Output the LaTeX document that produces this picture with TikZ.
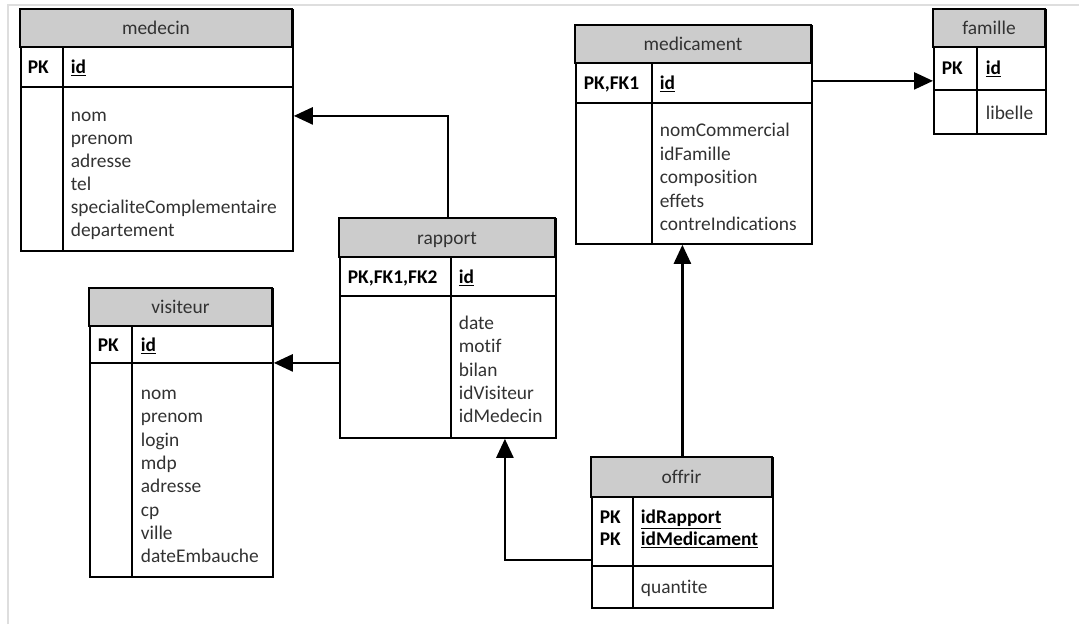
\documentclass[tikz,border=0pt]{standalone}
\usepackage{fontspec}
\setmainfont{Carlito}[Ligatures=NoCommon]
\usepackage{tikz}
\usetikzlibrary{arrows.meta}

\definecolor{hdrgray}{RGB}{204,204,204}
\definecolor{txtgray}{RGB}{50,50,50}
\definecolor{framegray}{RGB}{222,222,222}

\begin{document}
\begin{tikzpicture}[x=1pt, y=-1pt, line width=1.8pt, font=\fontsize{19.4}{23}\selectfont,
  tablebox/.style={draw, anchor=north west, inner sep=0pt},
  title/.style={fill=hdrgray},
  tname/.style={text=txtgray, inner sep=0pt, text height=0.7em, text depth=0.2em, yshift=-4pt},
  keytxt/.style={anchor=west, inner sep=0pt, font=\fontsize{19.4}{23}\selectfont\bfseries, text height=0.7em, text depth=0.2em, yshift=-4pt},
  attr/.style={anchor=west, inner sep=0pt, text=txtgray, text height=0.7em, text depth=0.2em, yshift=-4pt},
  fk/.style={-{Triangle[length=19pt,width=17pt]}, line width=2.5pt}]
\useasboundingbox (0,0) rectangle (1079,624);
\draw[framegray, line width=2pt] (8,624) -- (8,5) -- (1079,5);

% medecin
\node[tablebox, minimum width=272pt, minimum height=241pt] (medecin) at (20,9) {};
\draw[title] (medecin.north west) rectangle node[tname] (medecin-t) {medecin} ++(272,38);
\draw (medecin.north west) ++(0,78) -- ++(272,0);
\draw (medecin.north west) ++(43,38) -- ++(0,203);
\node[keytxt] (medecin-pk) at (27,67) {PK};
\node[keytxt] (medecin-id) at (70,67) {\underline{id}};
\foreach \f [count=\i from 0] in {nom,prenom,adresse,tel,specialiteComplementaire,departement}
  \node[attr] (medecin-\i) at (70,{115+23*\i}) {\f};

% medicament
\node[tablebox, minimum width=236pt, minimum height=218pt] (medicament) at (575,25) {};
\draw[title] (medicament.north west) rectangle node[tname] (medicament-t) {medicament} ++(236,38);
\draw (medicament.north west) ++(0,78) -- ++(236,0);
\draw (medicament.north west) ++(77,38) -- ++(0,180);
\node[keytxt] (medicament-pk) at (583,83) {PK,FK1};
\node[keytxt] (medicament-id) at (659,83) {\underline{id}};
\foreach \f [count=\i from 0] in {nomCommercial,idFamille,composition,effets,contreIndications}
  \node[attr] (medicament-\i) at (659,{130+23.5*\i}) {\f};

% famille
\node[tablebox, minimum width=112pt, minimum height=124pt] (famille) at (933,9) {};
\draw[title] (famille.north west) rectangle node[tname] (famille-t) {famille} ++(112,38);
\draw (famille.north west) ++(0,81) -- ++(112,0);
\draw (famille.north west) ++(44,38) -- ++(0,86);
\node[keytxt] (famille-pk) at (941,68) {PK};
\node[keytxt] (famille-id) at (985,68) {\underline{id}};
\node[attr] (famille-0) at (985,113) {libelle};

% rapport
\node[tablebox, minimum width=216pt, minimum height=219pt] (rapport) at (339,218) {};
\draw[title] (rapport.north west) rectangle node[tname] (rapport-t) {rapport} ++(216,39);
\draw (rapport.north west) ++(0,78) -- ++(216,0);
\draw (rapport.north west) ++(112,39) -- ++(0,180);
\node[keytxt] (rapport-pk) at (347,277) {PK,FK1,FK2};
\node[keytxt] (rapport-id) at (458,277) {\underline{id}};
\foreach \f [count=\i from 0] in {date,motif,bilan,idVisiteur,idMedecin}
  \node[attr] (rapport-\i) at (458,{323+23.3*\i}) {\f};

% visiteur
\node[tablebox, minimum width=183pt, minimum height=288pt] (visiteur) at (89,288) {};
\draw[title] (visiteur.north west) rectangle node[tname] (visiteur-t) {visiteur} ++(183,38);
\draw (visiteur.north west) ++(0,75) -- ++(183,0);
\draw (visiteur.north west) ++(43,38) -- ++(0,250);
\node[keytxt] (visiteur-pk) at (97,345) {PK};
\node[keytxt] (visiteur-id) at (140,345) {\underline{id}};
\foreach \f [count=\i from 0] in {nom,prenom,login,mdp,adresse,cp,ville,dateEmbauche}
  \node[attr] (visiteur-\i) at (140,{393+23.3*\i}) {\f};

% offrir
\node[tablebox, minimum width=181pt, minimum height=150pt] (offrir) at (591,457) {};
\draw[title] (offrir.north west) rectangle node[tname] (offrir-t) {offrir} ++(181,40);
\draw (offrir.north west) ++(0,109) -- ++(181,0);
\draw (offrir.north west) ++(42,40) -- ++(0,110);
\node[keytxt] (offrir-pk1) at (599,517) {PK};
\node[keytxt] (offrir-pk2) at (599,539) {PK};
\node[keytxt] (offrir-id1) at (640,517) {\underline{idRapport}};
\node[keytxt] (offrir-id2) at (640,539) {\underline{idMedicament}};
\node[attr] (offrir-0) at (640,587) {quantite};

% liens
\draw[fk] (rapport.north) |- ([yshift=14.5pt]medecin.east);
\coordinate (rv) at ([yshift=-34.5pt]rapport.west);
\draw[fk] (rv) -- (rv -| visiteur.east);
\coordinate (mf) at ([yshift=54pt]medicament.east);
\draw[fk] (mf) -- (mf -| famille.west);
\coordinate (or) at ([yshift=-27pt]offrir.west);
\draw[fk] (or) -| ([xshift=57pt]rapport.south);
\draw[fk] (offrir.north) -- (offrir.north |- medicament.south);
\end{tikzpicture}
\end{document}
